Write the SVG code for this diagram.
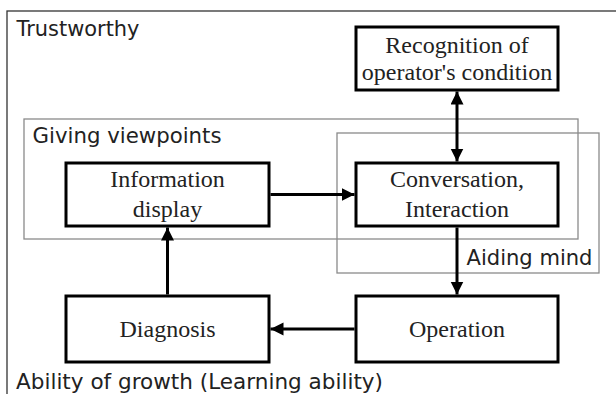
<svg xmlns="http://www.w3.org/2000/svg" width="616" height="394" viewBox="0 0 616 394">
<style>
.frame{fill:none;stroke:#333;stroke-width:1.3}
.group{fill:none;stroke:#8a8a8a;stroke-width:1.3}
.box rect{fill:#fff;stroke:#000;stroke-width:3}
.box text{font-family:"Liberation Serif","Times New Roman",serif;font-size:24px;fill:#222;text-anchor:middle}
.lbl{font-family:"DejaVu Sans",Verdana,sans-serif;font-size:21px;fill:#222}
.conn line{stroke:#000;stroke-width:3}
</style>
<defs>
<marker id="ah" markerUnits="userSpaceOnUse" markerWidth="14" markerHeight="14" refX="13" refY="6.5" orient="auto-start-reverse">
<path d="M0,0 L13,6.5 L0,13 z" fill="#000"/>
</marker>
</defs>
<rect width="616" height="394" fill="#fff"/>
<g id="trustworthy">
<rect class="frame" x="7" y="11" width="620" height="400"/>
<text class="lbl" x="16.5" y="36" textLength="123" lengthAdjust="spacingAndGlyphs">Trustworthy</text>
</g>
<g id="giving-viewpoints">
<rect class="group" x="24" y="119" width="554" height="120"/>
<text class="lbl" x="32.5" y="143" textLength="189" lengthAdjust="spacingAndGlyphs">Giving viewpoints</text>
</g>
<g id="aiding-mind">
<rect class="group" x="337" y="133" width="262" height="140"/>
<text class="lbl" x="466.5" y="265" textLength="126" lengthAdjust="spacingAndGlyphs">Aiding mind</text>
</g>
<g id="learning">
<text class="lbl" x="16" y="388.5" textLength="367" lengthAdjust="spacingAndGlyphs">Ability of growth (Learning ability)</text>
</g>
<g class="box" id="recognition">
<rect x="356" y="27" width="202" height="63"/>
<text x="457" y="52.5">Recognition of</text>
<text x="457" y="80">operator's condition</text>
</g>
<g class="box" id="information-display">
<rect x="66" y="163" width="203" height="63"/>
<text x="167.5" y="186.5">Information</text>
<text x="167.5" y="216.5">display</text>
</g>
<g class="box" id="conversation">
<rect x="356" y="163" width="202" height="63"/>
<text x="457" y="186.5">Conversation,</text>
<text x="457" y="216.5">Interaction</text>
</g>
<g class="box" id="diagnosis">
<rect x="66" y="296" width="203" height="66"/>
<text x="167.5" y="337">Diagnosis</text>
</g>
<g class="box" id="operation">
<rect x="356" y="296" width="202" height="66"/>
<text x="457" y="337">Operation</text>
</g>
<g class="conn" id="connectors">
<line x1="457" y1="91.5" x2="457" y2="161.5" marker-start="url(#ah)" marker-end="url(#ah)"/>
<line x1="270.5" y1="194.5" x2="354.5" y2="194.5" marker-end="url(#ah)"/>
<line x1="457" y1="227.5" x2="457" y2="294.5" marker-end="url(#ah)"/>
<line x1="354.5" y1="329" x2="270.5" y2="329" marker-end="url(#ah)"/>
<line x1="167.5" y1="294.5" x2="167.5" y2="227.5" marker-end="url(#ah)"/>
</g>
</svg>
